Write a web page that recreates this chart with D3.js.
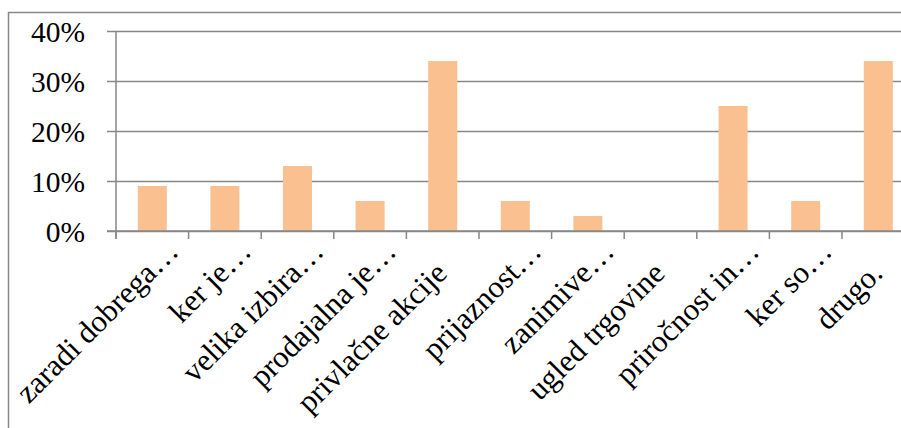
<!DOCTYPE html>
<html>
<head>
<meta charset="utf-8">
<script src="https://cdn.jsdelivr.net/npm/d3@7/dist/d3.min.js"></script>
<style>
  html, body { margin: 0; padding: 0; background: #fff; }
  svg { display: block; }
</style>
</head>
<body>
<div id="chart"></div>
<script>
// Reasons for choosing the store (share of respondents)
const categories = [
  "zaradi dobrega…",
  "ker je…",
  "velika izbira…",
  "prodajalna je…",
  "privlačne akcije",
  "prijaznost…",
  "zanimive…",
  "ugled trgovine",
  "priročnost in…",
  "ker so…",
  "drugo."
];
const values = [0.09, 0.09, 0.13, 0.06, 0.34, 0.06, 0.03, 0.00, 0.25, 0.06, 0.34];
const yTicks = [0, 0.1, 0.2, 0.3, 0.4];

const W = 901, H = 428;
const plot = { left: 116, right: 914.6, top: 31, bottom: 231 };
const gridColor = "#878787";
const barColor = "#FAC090";
const yFontSize = 29.5;
const xFontSize = 31;
const serif = "'Liberation Serif', 'Times New Roman'";

const svg = d3.select("#chart").append("svg")
  .attr("width", W).attr("height", H);

// chart frame
svg.append("rect")
  .attr("x", 8.5).attr("y", 12.5)
  .attr("width", 960).attr("height", 460)
  .attr("fill", "none")
  .attr("stroke", gridColor)
  .attr("stroke-width", 1.5);

const x = d3.scaleBand()
  .domain(categories)
  .range([plot.left, plot.right])
  .paddingInner(0).paddingOuter(0);

const y = d3.scaleLinear()
  .domain([0, 0.4])
  .range([plot.bottom, plot.top]);

// horizontal gridlines with left tick marks and labels
const yAxis = d3.axisLeft(y)
  .tickValues(yTicks)
  .tickFormat(d3.format(".0%"))
  .tickSize(-(plot.right - plot.left) - 9)
  .tickPadding(0);

const gy = svg.append("g")
  .attr("transform", `translate(${plot.right},0)`)
  .call(yAxis);
gy.select(".domain").remove();
gy.selectAll(".tick line")
  .attr("x1", 0)
  .attr("x2", -(plot.right - plot.left) - 9)
  .attr("stroke", gridColor)
  .attr("stroke-width", 1.5);
gy.selectAll(".tick text")
  .attr("x", -(plot.right - plot.left) - 31)
  .attr("dy", "0.34em")
  .attr("text-anchor", "end")
  .style("font-family", serif)
  .style("font-size", yFontSize + "px")
  .style("fill", "#000");

// bars
const barW = x.bandwidth() * 0.4;
svg.append("g")
  .selectAll("rect")
  .data(values)
  .join("rect")
  .attr("x", (d, i) => x(categories[i]) + (x.bandwidth() - barW) / 2)
  .attr("width", barW)
  .attr("y", d => y(d))
  .attr("height", d => y(0) - y(d))
  .attr("fill", barColor);

// vertical axis line
svg.append("line")
  .attr("x1", plot.left).attr("x2", plot.left)
  .attr("y1", plot.top).attr("y2", plot.bottom + 8)
  .attr("stroke", gridColor).attr("stroke-width", 1.5);

// category axis line and boundary ticks
svg.append("line")
  .attr("x1", plot.left - 9).attr("x2", plot.right)
  .attr("y1", y(0)).attr("y2", y(0))
  .attr("stroke", gridColor).attr("stroke-width", 1.5);

const bounds = categories.map(c => x(c)).concat([plot.right]);
svg.append("g")
  .selectAll("line")
  .data(bounds)
  .join("line")
  .attr("x1", d => d).attr("x2", d => d)
  .attr("y1", y(0)).attr("y2", y(0) + 8)
  .attr("stroke", gridColor).attr("stroke-width", 1.5);

// rotated category labels; a trailing ellipsis runs past the anchor point
const lab = svg.append("g")
  .selectAll("g")
  .data(categories)
  .join("g")
  .attr("transform", c => `translate(${x(c) + x.bandwidth() / 2 + 6},${y(0) + 44}) rotate(-45)`);

lab.append("text")
  .attr("text-anchor", "end")
  .style("font-family", serif)
  .style("font-size", xFontSize + "px")
  .style("fill", "#000")
  .text(c => c.replace(/…$/, ""));

lab.filter(c => c.endsWith("…"))
  .append("text")
  .attr("text-anchor", "start")
  .style("font-family", serif)
  .style("font-size", xFontSize + "px")
  .style("fill", "#000")
  .text("…");
</script>
</body>
</html>
